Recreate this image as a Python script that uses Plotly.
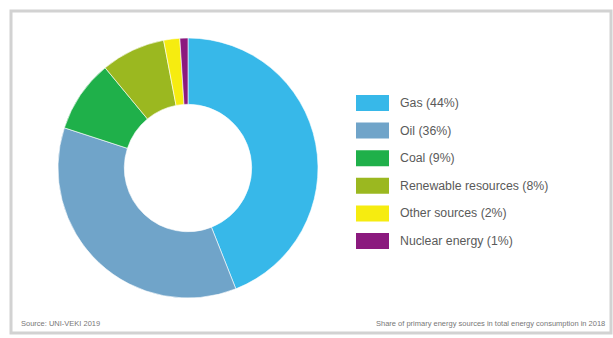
import plotly.graph_objects as go

categories = ["Gas", "Oil", "Coal", "Renewable resources", "Other sources", "Nuclear energy"]
values = [44, 36, 9, 8, 2, 1]
colors = ["#37b8e9", "#70a4c9", "#1fb04a", "#9bb820", "#f6ec10", "#8b1a7e"]
legend_labels = [f"{c} ({v}%)" for c, v in zip(categories, values)]
source_text = "Source: UNI-VEKI 2019"
note_text = "Share of primary energy sources in total energy consumption in 2018"

W, H = 613, 338

fig = go.Figure()
fig.add_trace(go.Pie(
    labels=categories,
    values=values,
    marker=dict(colors=colors, line=dict(color="rgba(255,255,255,0.6)", width=1)),
    hole=0.49,
    sort=False,
    direction="clockwise",
    rotation=0,
    textinfo="none",
    hoverinfo="label+percent",
    showlegend=False,
    domain=dict(x=[58 / W, 318 / W], y=[(H - 298) / H, (H - 38) / H]),
))

shapes = []
annotations = []
# frame
shapes.append(dict(type="rect", xref="paper", yref="paper",
                   x0=11 / W, x1=611 / W, y0=(H - 333) / H, y1=(H - 11) / H,
                   line=dict(color="#d2d2d2", width=3), fillcolor="rgba(0,0,0,0)"))

# custom legend
row0, step = 103, 27.6
for i, (lab, col) in enumerate(zip(legend_labels, colors)):
    yc = row0 + i * step
    shapes.append(dict(type="rect", xref="paper", yref="paper",
                       x0=356 / W, x1=389 / W, y0=(H - yc - 8) / H, y1=(H - yc + 8) / H,
                       fillcolor=col, line=dict(color=col, width=0)))
    annotations.append(dict(xref="paper", yref="paper", x=398 / W, y=(H - yc) / H,
                            xanchor="left", yanchor="middle", showarrow=False,
                            text=lab, font=dict(family="Liberation Sans, Arial", size=12.3, color="#5a5a5a")))

annotations.append(dict(xref="paper", yref="paper", x=19 / W, y=(H - 323) / H,
                        xanchor="left", yanchor="middle", showarrow=False,
                        text=source_text, font=dict(family="Liberation Sans, Arial", size=7.5, color="#777777")))
annotations.append(dict(xref="paper", yref="paper", x=607 / W, y=(H - 323) / H,
                        xanchor="right", yanchor="middle", showarrow=False,
                        text=note_text, font=dict(family="Liberation Sans, Arial", size=7.5, color="#777777")))

fig.update_layout(
    width=W, height=H,
    margin=dict(l=0, r=0, t=0, b=0),
    paper_bgcolor="white",
    plot_bgcolor="white",
    shapes=shapes,
    annotations=annotations,
)

fig.write_html("out.html", config={"displayModeBar": False})
